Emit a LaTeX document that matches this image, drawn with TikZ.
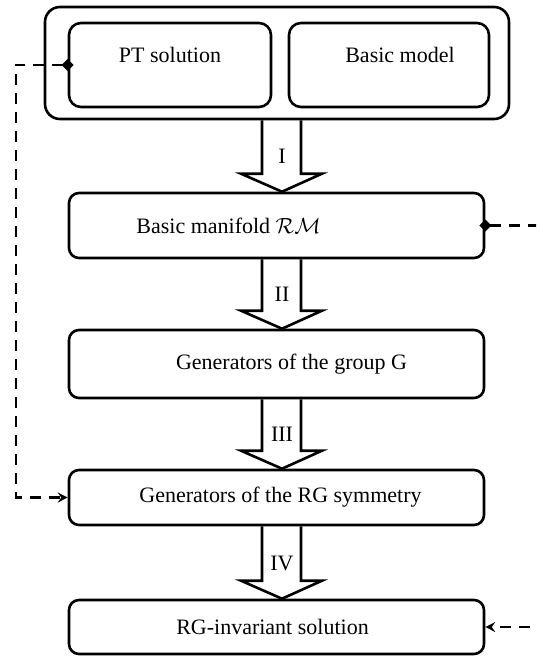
\documentclass[tikz,border=0pt]{standalone}
\usepackage{fontspec}
\setmainfont{Liberation Serif}
\usetikzlibrary{arrows.meta}

\begin{document}
\begin{tikzpicture}[x=0.5pt,y=-0.5pt,
		font=\fontsize{11}{13}\selectfont,
		frame/.style={draw,line width=1.3pt,rounded corners=7.5pt,minimum width=232pt,minimum height=56pt},
		half/.style={draw,line width=1.3pt,rounded corners=6pt,minimum height=42pt},
		stage/.style={draw,line width=1.3pt,rounded corners=5pt,minimum width=207.5pt},
		fat/.style={line width=1.3pt,line join=miter},
		link/.style={line width=1.1pt,dash pattern=on 5.5pt off 4pt,shorten <=-3pt,
			{Diamond[length=6pt,width=6pt]}-{Stealth[length=5pt,width=5pt,inset=1.8pt]}},
		feed/.style={line width=1.1pt,dash pattern=on 5.5pt off 4pt,
			-{Stealth[length=5pt,width=5pt,inset=1.8pt]}}]
		\clip (0,0) rectangle (536,659);
		% top block
		\node[frame] (top) at (277,63) {};
		\node[half,minimum width=101pt] (pt) at (170,65) {};
		\node[half,minimum width=100pt] (bm) at (389,65) {};
		\node (ptT) at ([yshift=5pt]pt) {PT solution};
		\node (bmT) at ([xshift=5.5pt,yshift=5pt]bm) {Basic model};
		% stages
		\node[stage,minimum height=32.5pt] (man) at (276.5,225.5) {};
		\node[stage,minimum height=34pt] (grp) at (276.5,364) {};
		\node[stage,minimum height=27.5pt] (sym) at (276.5,497.5) {};
		\node[stage,minimum height=27pt] (inv) at (276.5,627) {};
		\node (manT) at ([xshift=-24pt]man) {Basic manifold $\mathcal{RM}$};
		\node (grpT) at ([xshift=7.5pt]grp) {Generators of the group G};
		\node (symT) at ([xshift=2pt]sym) {Generators of the RG symmetry};
		\node (invT) at ([xshift=-2pt]inv) {RG-invariant solution};
		% big arrows
		\coordinate (sl) at (262,0);
		\coordinate (sr) at (301,0);
		\coordinate (hl) at (241,0);
		\coordinate (hr) at (322,0);
		\coordinate (tip) at (282,0);
		\foreach \a/\b/\n in {top/man/I,man/grp/II,grp/sym/III,sym/inv/IV}{
			\draw[fat] (\a.south -| sl) -- ([yshift=9pt]\b.north -| sl) -- ([yshift=9pt]\b.north -| hl)
				-- (\b.north -| tip) -- ([yshift=9pt]\b.north -| hr) -- ([yshift=9pt]\b.north -| sr) -- (\a.south -| sr);
			\path (\a.south -| tip) -- ([yshift=9pt]\b.north -| tip) node[pos=0.68] (lab\n) {\n};
		}
		% dashed links
		\draw[link] (pt.west) -- ++(-52,0) |- (sym.west);
		\draw[link] (man.east) -- ++(80,0) coordinate (far);
		\draw[feed] (far) |- (inv.east);
\end{tikzpicture}
\end{document}
